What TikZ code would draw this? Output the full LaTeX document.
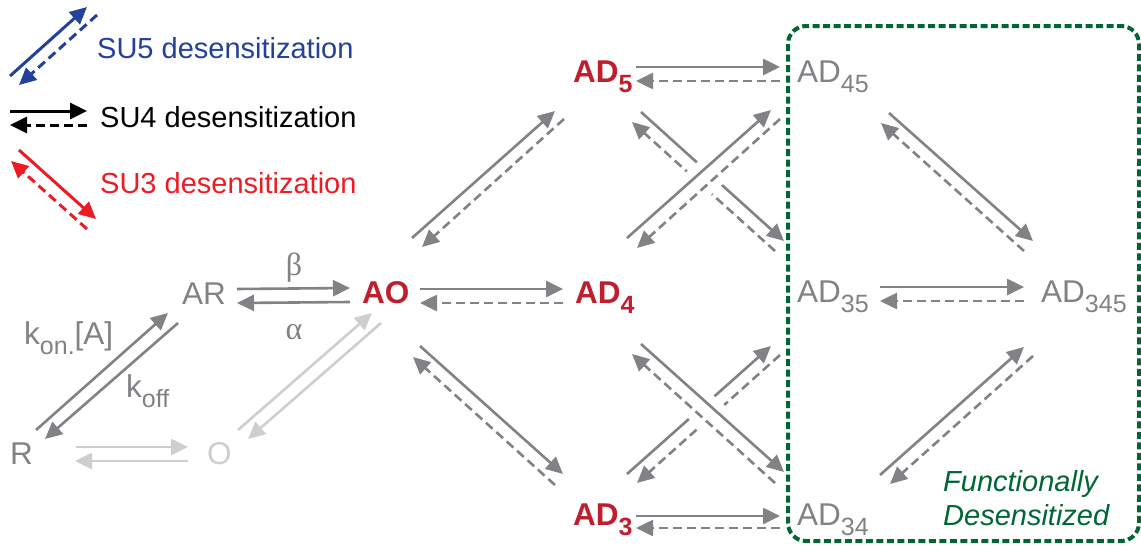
\documentclass[tikz,border=0pt]{standalone}
\usepackage{fontspec}
\setmainfont{Liberation Sans}
\newfontfamily\greekfont{Liberation Serif}
\usetikzlibrary{arrows.meta}
\definecolor{ggray}{RGB}{128,130,133}
\definecolor{lgray}{RGB}{205,206,208}
\definecolor{dred}{RGB}{190,30,45}
\definecolor{dgreen}{RGB}{0,102,51}
\definecolor{sublue}{RGB}{35,64,155}
\definecolor{sured}{RGB}{237,28,36}
\newcommand{\low}[1]{\raisebox{-10pt}{\fontsize{25}{25}\selectfont #1}}

\begin{document}
\begin{tikzpicture}[x=1pt, y=-1pt,
        every node/.style={inner sep=0pt, anchor=base west},
        gstate/.style={text=ggray, font=\fontsize{31.5}{36}\selectfont},
        rstate/.style={text=dred, font=\fontsize{31.5}{36}\selectfont\bfseries},
        lstate/.style={text=lgray, font=\fontsize{31.5}{36}\selectfont},
        fw/.style={color=ggray, line width=2.6pt, -{Triangle[length=17pt, width=16pt]}},
        bw/.style={fw, dash pattern=on 9pt off 5pt},
        fwl/.style={fw, color=lgray},
        halo/.style={draw=white, line width=20pt, shorten <=65pt, shorten >=65pt},
        legtext/.style={font=\fontsize{29}{34}\selectfont}]
            \useasboundingbox (0,0) rectangle (1141,546);

            % legend
            \node[legtext, text=sublue] (su5) at (97,58) {SU5 desensitization};
            \node[legtext, text=black] (su4) at (100,127) {SU4 desensitization};
            \node[legtext, text=sured] (su3) at (100,193) {SU3 desensitization};

            \draw[fw, color=sublue, line width=3pt] ([shift={(-87,18)}]su5.base west) -- ([shift={(-10,-51)}]su5.base west);
            \draw[bw, color=sublue, line width=3pt] ([shift={(0,-43)}]su5.base west) -- ([shift={(-78,27)}]su5.base west);
            \draw[fw, color=black, line width=3pt] ([shift={(-90,-16)}]su4.base west) -- ([shift={(-13,-16)}]su4.base west);
            \draw[bw, color=black, line width=3pt] ([shift={(-13,-2)}]su4.base west) -- ([shift={(-90,-2)}]su4.base west);
            \draw[fw, color=sured, line width=3pt] ([shift={(-81,-43)}]su3.base west) -- ([shift={(-4,26)}]su3.base west);
            \draw[bw, color=sured, line width=3pt] ([shift={(-13,36)}]su3.base west) -- ([shift={(-89,-32)}]su3.base west);

            % states
            \node[gstate] (R) at (10,464) {R};
            \node[gstate] (AR) at (182,304) {AR};
            \node[lstate] (O) at (207,464) {O};
            \node[rstate] (AO) at (362,303) {AO};
            \node[rstate] (AD5) at (573,82) {AD\low{5}};
            \node[rstate] (AD4) at (575,303) {AD\low{4}};
            \node[rstate] (AD3) at (573,525) {AD\low{3}};
            \node[gstate] (AD45) at (797,82) {AD\low{45}};
            \node[gstate] (AD35) at (797,302) {AD\low{35}};
            \node[gstate] (AD345) at (1041,302) {AD\low{345}};
            \node[gstate] (AD34) at (797,525) {AD\low{34}};

            \node[gstate] (kon) at (24,344) {k\low{on.}[A]};
            \node[gstate] (koff) at (126,397) {k\low{off}};
            \node[gstate, anchor=center, font=\greekfont\fontsize{32}{36}\selectfont] (beta) at (294,268) {β};
            \node[gstate, anchor=center, font=\greekfont\fontsize{32}{36}\selectfont] (alpha) at (294,332) {α};

            % binding and gating
            \draw[fw] ([shift={(26,-34)}]R.base west) -- ([shift={(-14,9)}]AR.base west);
            \draw[fw] ([shift={(-4,19)}]AR.base west) -- ([shift={(35,-25)}]R.base west);
            \draw[fwl] ([shift={(66,-17)}]R.base west) -- ([shift={(-19,-17)}]O.base west);
            \draw[fwl] ([shift={(-19,-3)}]O.base west) -- ([shift={(65,-3)}]R.base west);
            \draw[fwl] ([shift={(31,-34)}]O.base west) -- ([shift={(10,10)}]AO.base west);
            \draw[fwl] ([shift={(19,20)}]AO.base west) -- ([shift={(41,-25)}]O.base west);
            \draw[fw] ([shift={(55,-15)}]AR.base west) -- ([shift={(-12,-15)}]AO.base west);
            \draw[fw] ([shift={(-12,-1)}]AO.base west) -- ([shift={(55,-1)}]AR.base west);

            % single desensitization
            \draw[fw] ([shift={(58,-14)}]AO.base west) -- ([shift={(-12,-14)}]AD4.base west);
            \draw[bw] ([shift={(-12,0)}]AD4.base west) -- ([shift={(58,0)}]AO.base west);
            \draw[fw] ([shift={(50,-65)}]AO.base west) -- ([shift={(-18,29)}]AD5.base west);
            \draw[bw] ([shift={(-9,37)}]AD5.base west) -- ([shift={(60,-56)}]AO.base west);
            \draw[fw] ([shift={(58,43)}]AO.base west) -- ([shift={(-10,-51)}]AD3.base west);
            \draw[bw] ([shift={(-18,-40)}]AD3.base west) -- ([shift={(51,54)}]AO.base west);

            % double desensitization
            \draw[fw] ([shift={(63,-15)}]AD5.base west) -- ([shift={(-17,-15)}]AD45.base west);
            \draw[bw] ([shift={(-17,-1)}]AD45.base west) -- ([shift={(63,-1)}]AD5.base west);
            \draw[fw] ([shift={(68,30)}]AD5.base west) -- ([shift={(-13,-61)}]AD35.base west);
            \draw[bw] ([shift={(-22,-51)}]AD35.base west) -- ([shift={(59,40)}]AD5.base west);
            \draw[halo] ([shift={(52,-65)}]AD4.base west) -- ([shift={(-26,28)}]AD45.base west);
            \draw[halo] ([shift={(-17,37)}]AD45.base west) -- ([shift={(62,-55)}]AD4.base west);
            \draw[fw] ([shift={(52,-65)}]AD4.base west) -- ([shift={(-26,28)}]AD45.base west);
            \draw[bw] ([shift={(-17,37)}]AD45.base west) -- ([shift={(62,-55)}]AD4.base west);

            \draw[fw] ([shift={(63,-9)}]AD3.base west) -- ([shift={(-17,-9)}]AD34.base west);
            \draw[bw] ([shift={(-17,3)}]AD34.base west) -- ([shift={(63,3)}]AD3.base west);
            \draw[fw] ([shift={(54,-51)}]AD3.base west) -- ([shift={(-26,44)}]AD35.base west);
            \draw[bw] ([shift={(-17,53)}]AD35.base west) -- ([shift={(64,-42)}]AD3.base west);
            \draw[halo] ([shift={(66,41)}]AD4.base west) -- ([shift={(-13,-53)}]AD34.base west);
            \draw[halo] ([shift={(-22,-42)}]AD34.base west) -- ([shift={(57,51)}]AD4.base west);
            \draw[fw] ([shift={(66,41)}]AD4.base west) -- ([shift={(-13,-53)}]AD34.base west);
            \draw[bw] ([shift={(-22,-42)}]AD34.base west) -- ([shift={(57,51)}]AD4.base west);

            % triple desensitization
            \draw[fw] ([shift={(83,-15)}]AD35.base west) -- ([shift={(-17,-15)}]AD345.base west);
            \draw[bw] ([shift={(-17,-1)}]AD345.base west) -- ([shift={(83,-1)}]AD35.base west);
            \draw[fw] ([shift={(92,31)}]AD45.base west) -- ([shift={(-8,-61)}]AD345.base west);
            \draw[bw] ([shift={(-17,-51)}]AD345.base west) -- ([shift={(84,41)}]AD45.base west);
            \draw[fw] ([shift={(83,-50)}]AD34.base west) -- ([shift={(-17,45)}]AD345.base west);
            \draw[bw] ([shift={(-8,54)}]AD345.base west) -- ([shift={(93,-41)}]AD34.base west);

            % desensitized box
            \draw[dgreen, line width=4pt, dash pattern=on 7pt off 3.5pt, rounded corners=18pt] (788,26) rectangle (1139,541);
            \node[text=dgreen, font=\fontsize{29}{34}\selectfont\itshape] (fd1) at (943,491) {Functionally};
            \node[text=dgreen, font=\fontsize{29}{34}\selectfont\itshape] (fd2) at (943,525) {Desensitized};
        \end{tikzpicture}
\end{document}
